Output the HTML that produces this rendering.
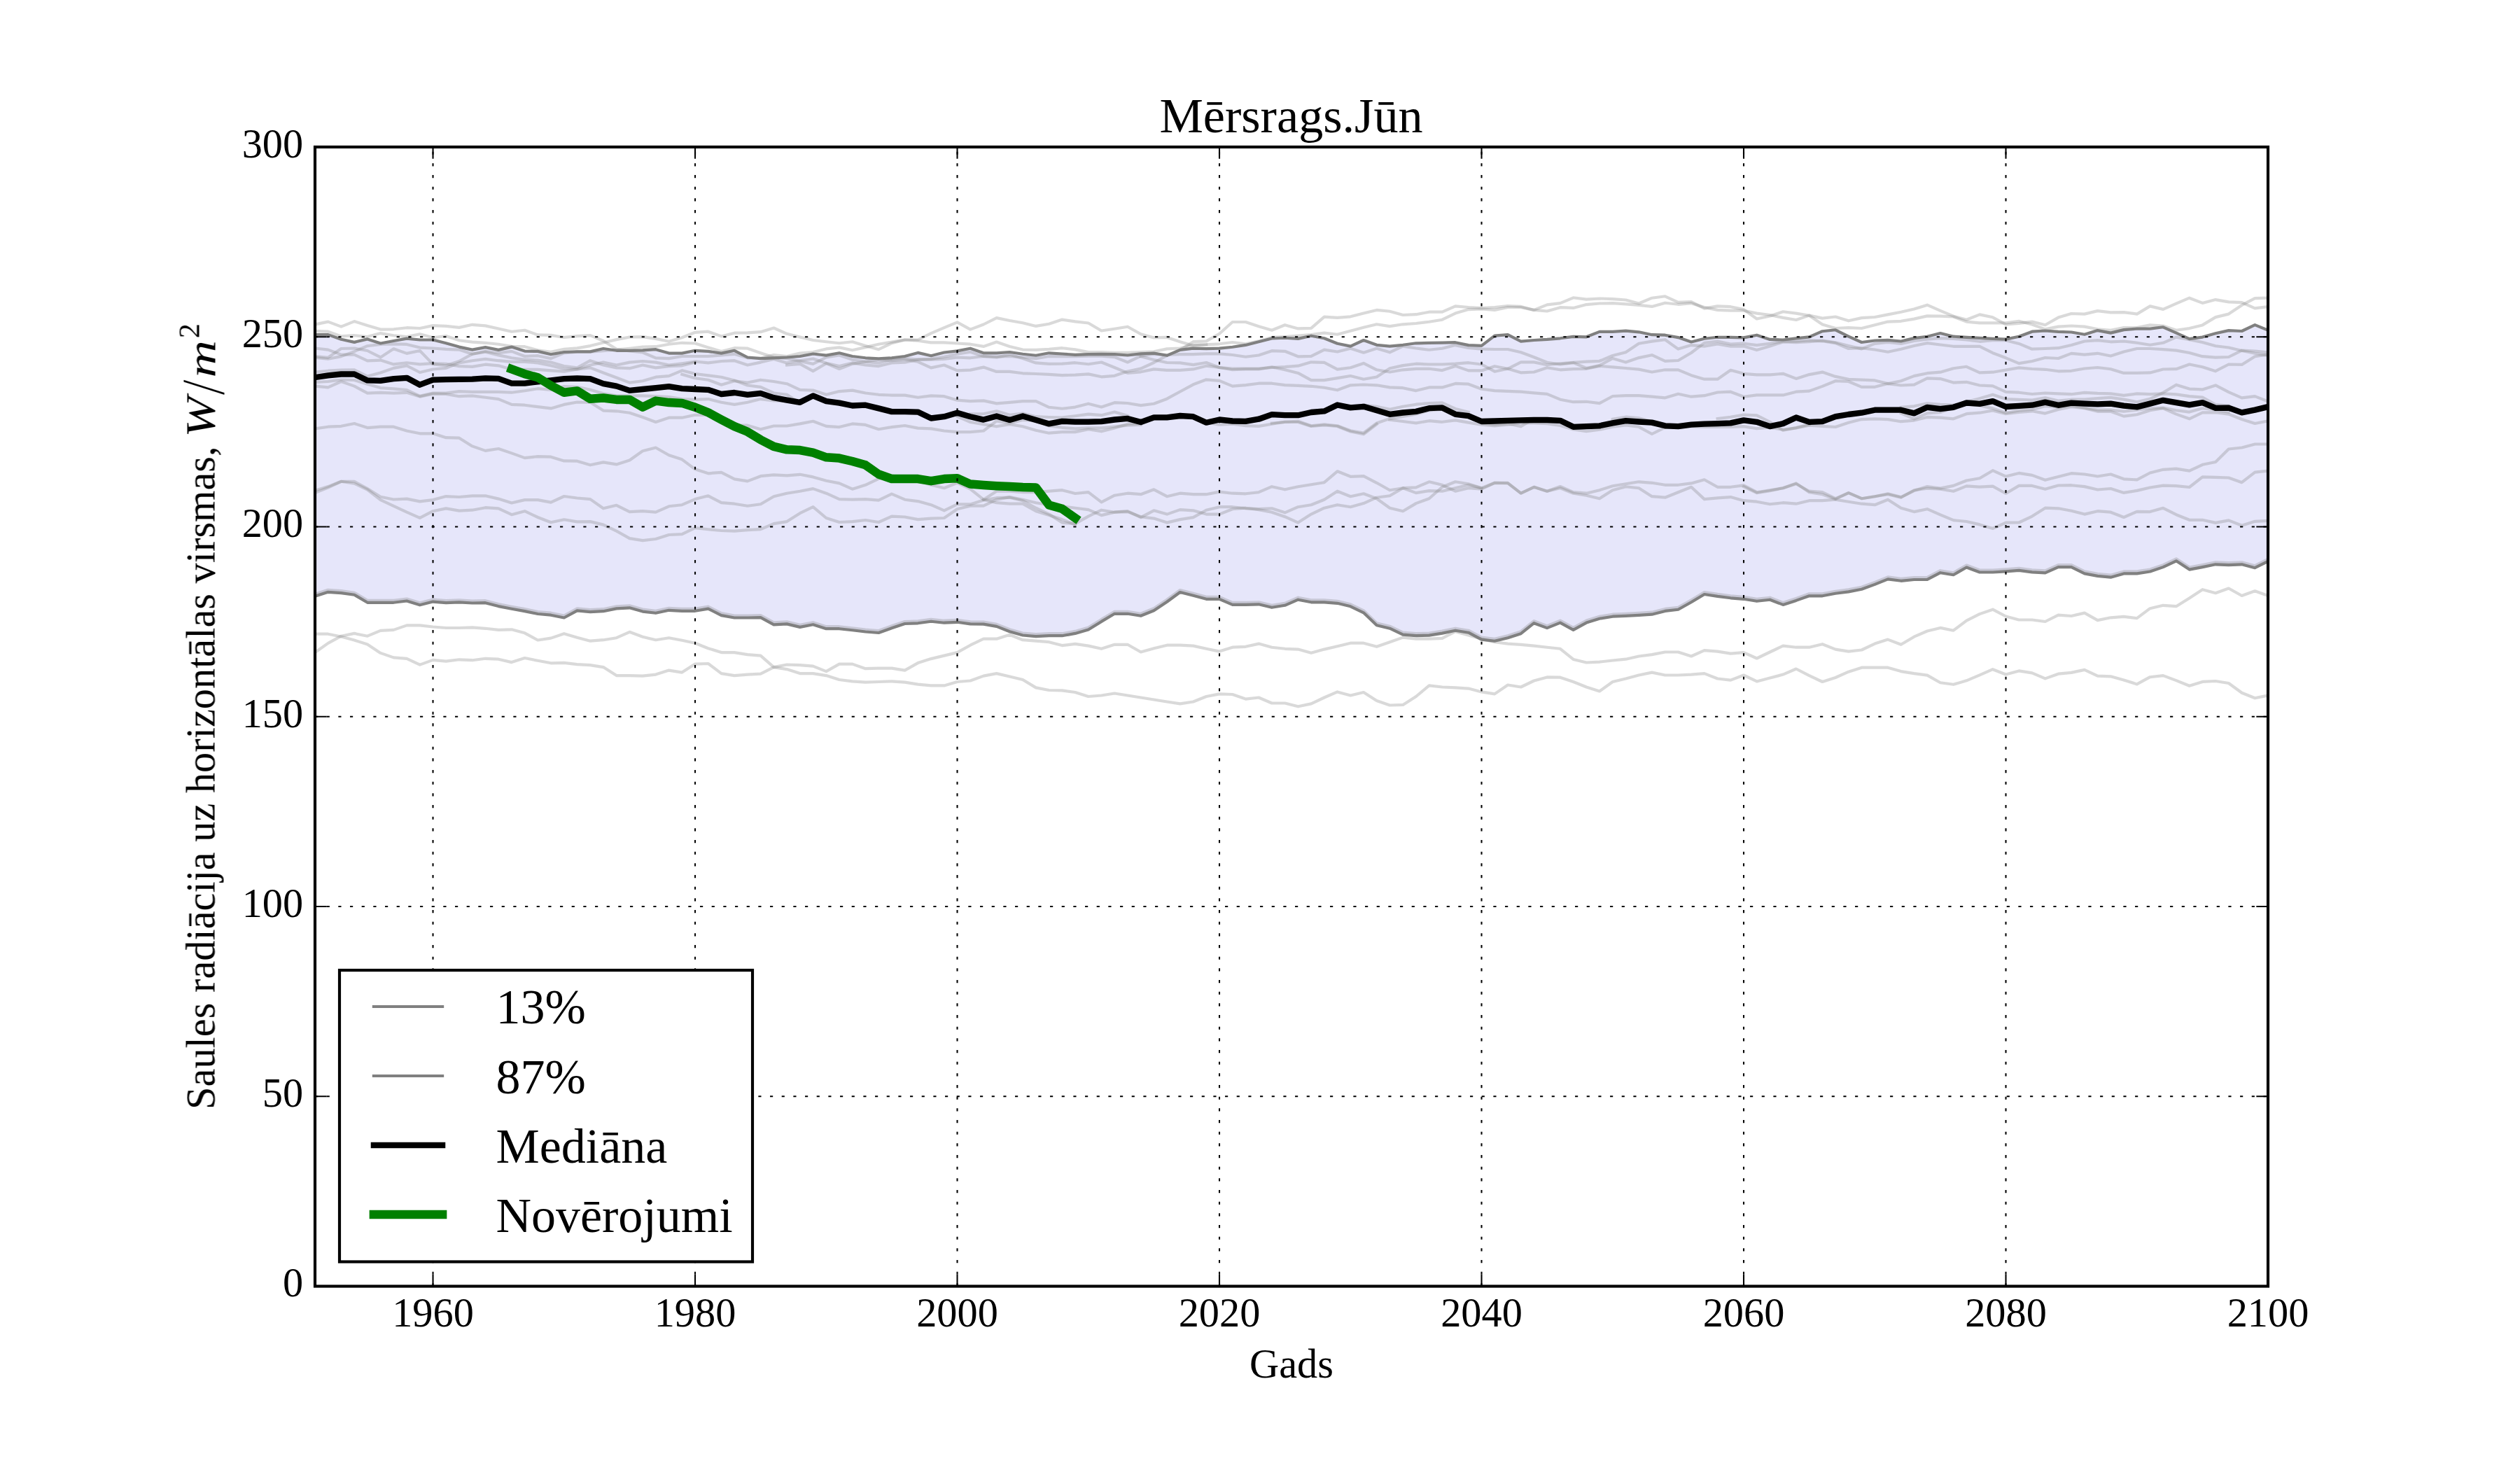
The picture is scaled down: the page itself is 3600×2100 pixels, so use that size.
<!DOCTYPE html>
<html><head><meta charset="utf-8"><title>Mērsrags.Jūn</title>
<style>
html,body{margin:0;padding:0;background:#fff;width:3600px;height:2100px;overflow:hidden}
svg{display:block}
.t{opacity:0.999;font-family:"Liberation Serif","DejaVu Serif",serif;fill:#000}
</style></head><body>
<svg width="3600" height="2100" viewBox="0 0 3600 2100">
<rect x="0" y="0" width="3600" height="2100" fill="#fff"/>
<defs><clipPath id="ax"><rect x="450.0" y="210.0" width="2790.0" height="1627.5"/></clipPath></defs>
<g clip-path="url(#ax)">
<polygon points="450.0,478.1 468.7,478.1 487.4,484.7 506.2,488.9 524.9,484.4 543.6,490.5 562.3,487.0 581.1,483.6 599.8,485.5 618.5,485.5 637.2,490.2 656.0,495.6 674.7,499.6 693.4,496.1 712.1,499.9 730.9,495.6 749.6,501.6 768.3,501.9 787.0,506.3 805.8,503.0 824.5,502.3 843.2,502.4 861.9,498.0 880.7,500.8 899.4,500.8 918.1,500.3 936.8,499.2 955.6,504.6 974.3,504.6 993.0,500.8 1011.7,501.9 1030.5,504.6 1049.2,500.8 1067.9,510.5 1086.6,512.1 1105.4,511.3 1124.1,510.5 1142.8,509.0 1161.5,505.5 1180.3,507.6 1199.0,504.3 1217.7,509.0 1236.4,511.3 1255.2,512.4 1273.9,511.3 1292.6,509.0 1311.3,503.9 1330.1,508.2 1348.8,503.5 1367.5,501.4 1386.2,497.7 1405.0,504.3 1423.7,504.3 1442.4,503.0 1461.1,505.8 1479.9,507.7 1498.6,504.3 1517.3,505.5 1536.0,506.8 1554.8,506.2 1573.5,505.9 1592.2,506.2 1610.9,507.5 1629.7,505.4 1648.4,504.6 1667.1,507.8 1685.8,499.9 1704.6,497.6 1723.3,498.1 1742.0,497.6 1760.7,495.7 1779.5,492.9 1798.2,488.2 1816.9,483.5 1835.6,482.7 1854.4,483.9 1873.1,479.7 1891.8,483.2 1910.5,490.7 1929.3,494.6 1948.0,486.0 1966.7,492.8 1985.4,494.6 2004.2,492.8 2022.9,490.3 2041.6,489.9 2060.3,489.6 2079.1,489.2 2097.8,493.1 2116.5,493.9 2135.2,479.7 2154.0,478.2 2172.7,487.6 2191.4,486.0 2210.1,484.9 2228.9,483.3 2247.6,480.9 2266.3,481.3 2285.0,473.9 2303.8,473.9 2322.5,472.7 2341.2,474.3 2359.9,478.2 2378.7,478.7 2397.4,482.1 2416.1,488.4 2434.8,483.7 2453.6,481.8 2472.3,481.8 2491.0,482.4 2509.7,478.7 2528.5,484.9 2547.2,485.5 2565.9,483.4 2584.6,481.4 2603.4,473.2 2622.1,471.3 2640.8,480.7 2659.5,489.0 2678.3,486.5 2697.0,485.9 2715.7,487.5 2734.4,483.1 2753.2,480.7 2771.9,476.0 2790.6,480.7 2809.3,481.8 2828.1,482.8 2846.8,483.9 2865.5,484.6 2884.2,480.7 2903.0,473.7 2921.7,472.5 2940.4,473.9 2959.1,474.5 2977.9,477.8 2996.6,472.1 3015.3,475.6 3034.0,471.1 3052.8,469.6 3071.5,469.6 3090.2,467.3 3108.9,475.6 3127.7,484.1 3146.4,481.6 3165.1,476.3 3183.8,472.1 3202.6,473.0 3221.3,464.1 3240.0,471.8 3240.0,801.9 3221.3,811.2 3202.6,806.3 3183.8,807.1 3165.1,806.3 3146.4,810.1 3127.7,813.6 3108.9,801.3 3090.2,810.1 3071.5,816.5 3052.8,819.4 3034.0,819.4 3015.3,824.7 2996.6,822.9 2977.9,819.4 2959.1,810.1 2940.4,810.1 2921.7,818.3 2903.0,817.4 2884.2,814.9 2865.5,816.4 2846.8,817.5 2828.1,817.5 2809.3,810.5 2790.6,821.2 2771.9,818.2 2753.2,827.8 2734.4,828.0 2715.7,829.8 2697.0,827.4 2678.3,834.9 2659.5,841.8 2640.8,845.4 2622.1,847.8 2603.4,851.3 2584.6,851.3 2565.9,857.9 2547.2,863.9 2528.5,856.7 2509.7,858.8 2491.0,855.8 2472.3,854.3 2453.6,851.9 2434.8,849.0 2416.1,860.3 2397.4,870.8 2378.7,872.9 2359.9,877.7 2341.2,878.9 2322.5,879.8 2303.8,880.7 2285.0,883.7 2266.3,889.6 2247.6,899.8 2228.9,889.6 2210.1,897.1 2191.4,890.2 2172.7,905.2 2154.0,911.2 2135.2,915.7 2116.5,913.6 2097.8,903.7 2079.1,900.7 2060.3,904.6 2041.6,907.6 2022.9,908.2 2004.2,906.7 1985.4,897.7 1966.7,893.2 1948.0,875.3 1929.3,866.3 1910.5,861.8 1891.8,860.3 1873.1,860.3 1854.4,856.7 1835.6,864.8 1816.9,867.8 1798.2,863.3 1779.5,863.9 1760.7,863.9 1742.0,855.8 1723.3,855.8 1704.6,850.7 1685.8,846.0 1667.1,859.7 1648.4,872.3 1629.7,879.8 1610.9,876.8 1592.2,876.8 1573.5,887.9 1554.8,899.6 1536.0,904.9 1517.3,908.2 1498.6,908.2 1479.9,909.1 1461.1,907.5 1442.4,902.3 1423.7,894.9 1405.0,891.6 1386.2,891.4 1367.5,888.8 1348.8,889.7 1330.1,887.7 1311.3,890.3 1292.6,891.0 1273.9,897.3 1255.2,904.0 1236.4,902.5 1217.7,900.3 1199.0,898.2 1180.3,898.2 1161.5,892.3 1142.8,895.9 1124.1,891.4 1105.4,892.3 1086.6,882.2 1067.9,882.5 1049.2,882.5 1030.5,879.1 1011.7,869.6 993.0,872.8 974.3,872.8 955.6,871.8 936.8,875.8 918.1,873.6 899.4,868.3 880.7,869.4 861.9,873.2 843.2,874.1 824.5,872.4 805.8,882.5 787.0,878.7 768.3,877.0 749.6,873.1 730.9,869.8 712.1,866.1 693.4,861.2 674.7,861.5 656.0,860.3 637.2,861.2 618.5,859.6 599.8,864.3 581.1,858.5 562.3,860.8 543.6,860.8 524.9,860.8 506.2,849.7 487.4,847.1 468.7,845.8 450.0,851.8" fill="#e6e6fa" stroke="none"/>
<polyline points="450.0,463.5 468.7,459.6 487.4,466.6 506.2,459.1 524.9,465.1 543.6,470.6 562.3,470.3 581.1,468.2 599.8,469.0 618.5,465.1 637.2,465.9 656.0,467.9 674.7,463.8 693.4,465.4 712.1,469.5 730.9,473.7 749.6,471.8 768.3,478.4 787.0,478.9 805.8,482.0 824.5,480.2 843.2,479.2 861.9,487.0 880.7,498.8 899.4,501.4 918.1,503.5 936.8,511.3 955.6,512.1 974.3,509.0 993.0,509.0 1011.7,509.0 1030.5,507.4 1049.2,505.8 1067.9,511.3 1086.6,511.7 1105.4,507.1 1124.1,509.0 1142.8,504.6 1161.5,503.1 1180.3,498.4 1199.0,496.4 1217.7,500.3 1236.4,496.1 1255.2,491.7 1273.9,488.6 1292.6,485.5 1311.3,486.7 1330.1,489.4 1348.8,489.4 1367.5,490.5 1386.2,491.7 1405.0,494.9 1423.7,488.6 1442.4,494.9 1461.1,499.6 1479.9,499.9 1498.6,498.8 1517.3,497.2 1536.0,499.4 1554.8,503.1 1573.5,503.1 1592.2,503.9 1610.9,503.9 1629.7,503.1 1648.4,502.3 1667.1,498.4 1685.8,497.6 1704.6,492.9 1723.3,492.4 1742.0,491.3 1760.7,489.0 1779.5,491.3 1798.2,487.4 1816.9,481.9 1835.6,481.1 1854.4,479.6 1873.1,478.1 1891.8,475.6 1910.5,477.7 1929.3,472.7 1948.0,467.7 1966.7,463.3 1985.4,466.1 2004.2,463.3 2022.9,462.0 2041.6,459.8 2060.3,456.7 2079.1,447.6 2097.8,442.1 2116.5,441.3 2135.2,442.9 2154.0,439.0 2172.7,439.0 2191.4,442.9 2210.1,444.5 2228.9,439.2 2247.6,439.9 2266.3,435.1 2285.0,433.5 2303.8,433.2 2322.5,434.3 2341.2,435.9 2359.9,437.9 2378.7,432.7 2397.4,434.8 2416.1,433.2 2434.8,439.0 2453.6,442.9 2472.3,443.7 2491.0,443.7 2509.7,447.6 2528.5,450.0 2547.2,453.9 2565.9,457.0 2584.6,450.6 2603.4,454.6 2622.1,452.5 2640.8,458.3 2659.5,454.1 2678.3,453.0 2697.0,449.4 2715.7,445.8 2734.4,441.5 2753.2,435.7 2771.9,443.9 2790.6,451.7 2809.3,456.7 2828.1,449.4 2846.8,453.3 2865.5,463.5 2884.2,461.9 2903.0,459.6 2921.7,464.2 2940.4,453.6 2959.1,448.0 2977.9,448.6 2996.6,444.1 3015.3,446.4 3034.0,446.1 3052.8,448.6 3071.5,437.4 3090.2,441.9 3108.9,433.7 3127.7,425.7 3146.4,432.9 3165.1,428.1 3183.8,431.4 3202.6,432.2 3221.3,440.4 3240.0,438.2" fill="none" stroke="#808080" stroke-opacity="0.3" stroke-width="4.17" stroke-linejoin="round" stroke-linecap="square"/>
<polyline points="450.0,472.9 468.7,473.7 487.4,480.4 506.2,479.2 524.9,481.1 543.6,476.1 562.3,479.2 581.1,481.1 599.8,477.3 618.5,482.3 637.2,480.0 656.0,486.2 674.7,488.6 693.4,489.8 712.1,491.7 730.9,494.9 749.6,495.2 768.3,500.3 787.0,502.7 805.8,498.8 824.5,497.4 843.2,494.1 861.9,489.4 880.7,485.1 899.4,481.5 918.1,481.1 936.8,483.9 955.6,487.8 974.3,482.3 993.0,474.8 1011.7,473.7 1030.5,480.4 1049.2,475.7 1067.9,475.3 1086.6,474.2 1105.4,468.5 1124.1,476.8 1142.8,481.5 1161.5,486.0 1180.3,488.2 1199.0,490.2 1217.7,488.3 1236.4,494.1 1255.2,499.2 1273.9,490.2 1292.6,485.5 1311.3,485.5 1330.1,476.1 1348.8,468.2 1367.5,460.4 1386.2,470.6 1405.0,463.5 1423.7,454.1 1442.4,458.0 1461.1,461.2 1479.9,465.9 1498.6,462.7 1517.3,456.6 1536.0,459.4 1554.8,461.5 1573.5,472.5 1592.2,469.8 1610.9,466.7 1629.7,477.2 1648.4,482.4 1667.1,481.9 1685.8,488.2 1704.6,493.7 1723.3,492.4" fill="none" stroke="#808080" stroke-opacity="0.3" stroke-width="4.17" stroke-linejoin="round" stroke-linecap="square"/>
<polyline points="450.0,497.5 468.7,499.6 487.4,506.6 506.2,506.6 524.9,515.4 543.6,514.6 562.3,520.4 581.1,518.2 599.8,520.4 618.5,519.2 637.2,519.9 656.0,523.1 674.7,523.9 693.4,520.7 712.1,522.3 730.9,527.8 749.6,527.8 768.3,527.8 787.0,529.3 805.8,530.6 824.5,527.4 843.2,525.4 861.9,532.5 880.7,539.5 899.4,546.6 918.1,544.2 936.8,538.7 955.6,537.2 974.3,529.3 993.0,534.0 1011.7,536.4 1030.5,538.7 1049.2,543.4 1067.9,550.5 1086.6,552.9 1105.4,561.5 1124.1,563.8 1142.8,575.6" fill="none" stroke="#808080" stroke-opacity="0.3" stroke-width="4.17" stroke-linejoin="round" stroke-linecap="square"/>
<polyline points="450.0,509.1 468.7,510.8 487.4,498.0 506.2,497.5 524.9,501.0 543.6,510.4 562.3,498.3 581.1,504.9 599.8,501.0 618.5,520.4 637.2,522.3 656.0,516.0 674.7,505.8 693.4,501.9 712.1,504.3 730.9,501.9 749.6,509.0 768.3,508.2 787.0,512.1 805.8,504.3 824.5,502.7 843.2,502.7 861.9,501.1 880.7,499.6 899.4,497.7 918.1,495.6 936.8,495.2 955.6,491.7 974.3,489.8 993.0,490.5 1011.7,496.4 1030.5,501.9 1049.2,497.2 1067.9,497.7 1086.6,504.3 1105.4,510.5 1124.1,512.1 1142.8,516.0 1161.5,519.9 1180.3,510.5 1199.0,507.4 1217.7,513.7 1236.4,516.8 1255.2,518.4 1273.9,513.7 1292.6,512.1 1311.3,513.7 1330.1,513.7 1348.8,512.9 1367.5,510.5 1386.2,511.3 1405.0,509.0 1423.7,509.7 1442.4,509.0 1461.1,510.5 1479.9,512.1 1498.6,509.0 1517.3,509.2 1536.0,509.2 1554.8,508.6 1573.5,508.6 1592.2,510.1 1610.9,517.5 1629.7,508.6 1648.4,505.9 1667.1,507.0 1685.8,506.2 1704.6,506.2 1723.3,505.4 1742.0,505.4 1760.7,507.0 1779.5,509.7 1798.2,507.5 1816.9,501.2 1835.6,501.8 1854.4,509.3 1873.1,508.9 1891.8,499.6 1910.5,502.5 1929.3,497.8 1948.0,503.7 1966.7,497.8 1985.4,503.3 2004.2,494.6 2022.9,497.5 2041.6,499.7 2060.3,497.8 2079.1,493.1 2097.8,497.0 2116.5,498.6 2135.2,499.0 2154.0,499.0 2172.7,503.3 2191.4,510.3 2210.1,517.8 2228.9,520.5 2247.6,518.2 2266.3,526.0 2285.0,522.1 2303.8,511.9 2322.5,517.4 2341.2,511.1 2359.9,507.2 2378.7,515.8 2397.4,515.0 2416.1,504.0 2434.8,489.9 2453.6,487.6 2472.3,491.5 2491.0,490.7 2509.7,493.1 2528.5,490.7 2547.2,487.6 2565.9,487.6 2584.6,486.1 2603.4,487.3 2622.1,490.1 2640.8,498.0 2659.5,497.2 2678.3,499.5 2697.0,502.7 2715.7,498.7 2734.4,494.0 2753.2,490.1 2771.9,492.5 2790.6,494.8 2809.3,494.8 2828.1,494.8 2846.8,504.2 2865.5,511.3 2884.2,519.1 2903.0,516.0 2921.7,511.0 2940.4,512.0 2959.1,504.9 2977.9,506.6 2996.6,504.8 3015.3,508.5 3034.0,502.5 3052.8,498.0 3071.5,498.0 3090.2,499.1 3108.9,500.6 3127.7,504.0 3146.4,509.2 3165.1,510.7 3183.8,510.0 3202.6,500.6 3221.3,501.5 3240.0,503.3" fill="none" stroke="#808080" stroke-opacity="0.3" stroke-width="4.17" stroke-linejoin="round" stroke-linecap="square"/>
<polyline points="450.0,510.8 468.7,512.7 487.4,509.1 506.2,502.1 524.9,494.2 543.6,491.9 562.3,491.3 581.1,491.9 599.8,496.6 618.5,497.5 637.2,498.8 656.0,499.6 674.7,505.8 693.4,502.7 712.1,507.4 730.9,511.3 749.6,513.7 768.3,514.5 787.0,517.6 805.8,523.1 824.5,525.4 843.2,515.2 861.9,521.5 880.7,525.4 899.4,526.2 918.1,521.5 936.8,525.4 955.6,523.1 974.3,522.3 993.0,517.6" fill="none" stroke="#808080" stroke-opacity="0.3" stroke-width="4.17" stroke-linejoin="round" stroke-linecap="square"/>
<polyline points="450.0,531.7 468.7,529.7 487.4,528.7 506.2,528.4 524.9,537.5 543.6,532.5 562.3,525.9 581.1,522.4 599.8,532.0 618.5,527.5 637.2,525.9 656.0,518.4 674.7,515.2 693.4,512.9 712.1,515.2 730.9,516.8 749.6,516.8 768.3,518.4 787.0,522.3 805.8,527.0 824.5,527.4 843.2,521.5 861.9,517.6 880.7,521.5 899.4,517.6 918.1,516.0 936.8,517.6 955.6,521.5 974.3,519.2 993.0,516.5 1011.7,518.4 1030.5,516.0 1049.2,515.2 1067.9,521.5 1086.6,517.6 1105.4,512.9 1124.1,518.4 1142.8,515.2 1161.5,512.5 1180.3,518.8 1199.0,523.1 1217.7,518.4 1236.4,521.5 1255.2,523.1 1273.9,518.4 1292.6,517.6 1311.3,513.7 1330.1,512.9 1348.8,509.7 1367.5,505.8 1386.2,502.7 1405.0,509.0 1423.7,510.5 1442.4,506.6 1461.1,512.1 1479.9,518.4 1498.6,519.9 1517.3,519.7 1536.0,518.2 1554.8,520.3 1573.5,517.5 1592.2,525.0 1610.9,532.9 1629.7,531.3 1648.4,527.4 1667.1,528.9 1685.8,528.9 1704.6,527.4 1723.3,522.7 1742.0,525.0 1760.7,526.6 1779.5,526.6 1798.2,526.6 1816.9,525.0 1835.6,524.2 1854.4,522.7 1873.1,517.3 1891.8,517.9 1910.5,527.6 1929.3,525.2 1948.0,518.9 1966.7,528.3 1985.4,531.5 2004.2,528.3 2022.9,526.8 2041.6,526.8 2060.3,529.1 2079.1,522.9 2097.8,529.4 2116.5,529.4 2135.2,523.2 2154.0,526.8 2172.7,532.3 2191.4,531.5 2210.1,525.2 2228.9,528.3 2247.6,527.2 2266.3,526.8 2285.0,522.9 2303.8,524.4 2322.5,526.0 2341.2,527.6 2359.9,531.5 2378.7,528.3 2397.4,528.3 2416.1,536.2 2434.8,541.7 2453.6,541.7 2472.3,528.8 2491.0,533.8 2509.7,535.4 2528.5,535.4 2547.2,533.8 2565.9,540.9 2584.6,535.1 2603.4,531.6 2622.1,537.9 2640.8,541.8 2659.5,542.6 2678.3,543.4 2697.0,548.1 2715.7,550.5 2734.4,549.7 2753.2,540.3 2771.9,541.1 2790.6,546.6 2809.3,545.8 2828.1,550.5 2846.8,551.3 2865.5,559.9 2884.2,560.7 2903.0,563.0 2921.7,561.5 2940.4,562.3 2959.1,563.2 2977.9,560.9 2996.6,561.9 3015.3,562.4 3034.0,564.9 3052.8,562.4 3071.5,563.1 3090.2,562.4 3108.9,563.4 3127.7,566.1 3146.4,567.6 3165.1,578.1 3183.8,579.6" fill="none" stroke="#808080" stroke-opacity="0.3" stroke-width="4.17" stroke-linejoin="round" stroke-linecap="square"/>
<polyline points="450.0,545.8 468.7,545.0 487.4,542.5 506.2,543.0 524.9,548.8 543.6,554.1 562.3,555.4 581.1,557.1 599.8,565.9 618.5,561.6 637.2,561.6 656.0,559.1 674.7,559.9 693.4,559.9 712.1,559.9 730.9,560.7 749.6,558.3 768.3,555.2 787.0,556.8 805.8,552.1 824.5,552.9 843.2,556.8 861.9,562.3 880.7,565.4 899.4,565.4 918.1,565.4 936.8,566.2 955.6,567.0 974.3,570.1 993.0,570.9 1011.7,570.1 1030.5,574.8 1049.2,577.9 1067.9,574.8 1086.6,570.1 1105.4,572.4 1124.1,573.2 1142.8,576.4" fill="none" stroke="#808080" stroke-opacity="0.3" stroke-width="4.17" stroke-linejoin="round" stroke-linecap="square"/>
<polyline points="450.0,551.6 468.7,553.3 487.4,545.0 506.2,551.6 524.9,561.6 543.6,560.8 562.3,561.6 581.1,560.8 599.8,566.6 618.5,562.6 637.2,563.0 656.0,566.2 674.7,565.4 693.4,567.7 712.1,570.1 730.9,577.9 749.6,578.7 768.3,581.1 787.0,583.4 805.8,577.9 824.5,574.5 843.2,574.8 861.9,586.6 880.7,587.3 899.4,589.7 918.1,596.0 936.8,603.0 955.6,596.7 974.3,596.7 993.0,592.8 1011.7,592.8" fill="none" stroke="#808080" stroke-opacity="0.3" stroke-width="4.17" stroke-linejoin="round" stroke-linecap="square"/>
<polyline points="974.3,534.8 993.0,540.3 1011.7,542.7 1030.5,549.7 1049.2,544.2 1067.9,546.6 1086.6,542.7 1105.4,545.0 1124.1,548.2 1142.8,556.8 1161.5,557.6 1180.3,563.8 1199.0,559.1 1217.7,557.6 1236.4,561.5 1255.2,563.8 1273.9,564.6 1292.6,564.6 1311.3,567.7 1330.1,565.4 1348.8,566.2 1367.5,571.7 1386.2,573.2 1405.0,572.4 1423.7,576.4 1442.4,574.8 1461.1,573.2 1479.9,573.2 1498.6,581.8 1517.3,583.8 1536.0,581.6 1554.8,576.7 1573.5,581.4 1592.2,575.2 1610.9,576.0 1629.7,579.1 1648.4,576.7 1667.1,569.7 1685.8,559.5 1704.6,549.3 1723.3,542.3 1742.0,543.8 1760.7,551.7 1779.5,550.1 1798.2,547.7 1816.9,547.7 1835.6,550.1 1854.4,550.9 1873.1,551.8 1891.8,553.7 1910.5,557.3 1929.3,550.3 1948.0,549.5 1966.7,550.3 1985.4,553.4 2004.2,554.2 2022.9,558.1 2041.6,553.4 2060.3,553.4 2079.1,547.9 2097.8,548.7 2116.5,555.8 2135.2,558.1 2154.0,558.9 2172.7,559.7 2191.4,561.3 2210.1,562.8 2228.9,570.7 2247.6,574.2 2266.3,573.8 2285.0,576.1 2303.8,566.0 2322.5,565.2 2341.2,565.2 2359.9,566.7 2378.7,568.3 2397.4,562.8 2416.1,566.7 2434.8,565.2 2453.6,560.5 2472.3,559.7 2491.0,566.7 2509.7,564.4 2528.5,564.4 2547.2,564.4 2565.9,559.7 2584.6,558.6 2603.4,551.9 2622.1,544.2 2640.8,545.0 2659.5,552.8 2678.3,552.8 2697.0,548.1 2715.7,544.2 2734.4,537.1 2753.2,533.2 2771.9,531.7 2790.6,526.2 2809.3,523.8 2828.1,532.4 2846.8,531.7 2865.5,528.5 2884.2,525.4 2903.0,527.0 2921.7,527.8 2940.4,530.3 2959.1,529.8 2977.9,526.5 2996.6,525.0 3015.3,527.2 3034.0,532.9 3052.8,532.9 3071.5,532.4 3090.2,527.5 3108.9,527.2 3127.7,520.5 3146.4,524.2 3165.1,530.2 3183.8,520.5 3202.6,520.9 3221.3,509.2 3240.0,506.3" fill="none" stroke="#808080" stroke-opacity="0.3" stroke-width="4.17" stroke-linejoin="round" stroke-linecap="square"/>
<polyline points="1124.1,521.5 1142.8,519.9 1161.5,530.1 1180.3,519.2 1199.0,527.0 1217.7,519.9 1236.4,516.8 1255.2,513.7 1273.9,515.2 1292.6,513.7 1311.3,516.8 1330.1,525.4 1348.8,521.5 1367.5,529.3 1386.2,528.6 1405.0,524.6 1423.7,530.9 1442.4,530.9 1461.1,533.3 1479.9,534.0 1498.6,534.8 1517.3,536.2 1536.0,535.6 1554.8,534.4 1573.5,538.3 1592.2,536.8 1610.9,530.5 1629.7,526.6 1648.4,518.0 1667.1,507.8 1685.8,499.9 1704.6,488.2 1723.3,487.4 1742.0,476.7 1760.7,460.0 1779.5,460.0 1798.2,466.2 1816.9,471.7 1835.6,464.2 1854.4,469.4 1873.1,468.8 1891.8,452.6 1910.5,453.9 1929.3,452.3 1948.0,447.6 1966.7,442.9 1985.4,444.8 2004.2,450.0 2022.9,449.2 2041.6,445.7 2060.3,445.7 2079.1,437.4 2097.8,439.0 2116.5,440.1 2135.2,439.0 2154.0,437.0 2172.7,437.9 2191.4,442.9 2210.1,435.4 2228.9,433.1 2247.6,425.3 2266.3,427.6 2285.0,426.5 2303.8,427.2 2322.5,428.5 2341.2,433.5 2359.9,425.7 2378.7,423.3 2397.4,431.9 2416.1,431.2 2434.8,440.6 2453.6,437.4 2472.3,438.2 2491.0,442.1 2509.7,455.5 2528.5,451.5 2547.2,445.3 2565.9,447.6 2584.6,450.8 2603.4,463.4 2622.1,469.0 2640.8,468.2 2659.5,469.0 2678.3,464.3 2697.0,459.6 2715.7,458.8 2734.4,455.6 2753.2,451.4 2771.9,451.7 2790.6,452.5 2809.3,459.6 2828.1,461.4 2846.8,461.4 2865.5,461.4 2884.2,458.8 2903.0,463.5 2921.7,470.4 2940.4,466.6 2959.1,465.5 2977.9,466.6 2996.6,470.3 3015.3,471.8 3034.0,468.1 3052.8,468.1 3071.5,464.4 3090.2,465.5 3108.9,471.8 3127.7,469.1 3146.4,464.4 3165.1,453.1 3183.8,448.6 3202.6,435.9 3221.3,426.2 3240.0,425.7" fill="none" stroke="#808080" stroke-opacity="0.3" stroke-width="4.17" stroke-linejoin="round" stroke-linecap="square"/>
<polyline points="1049.2,607.7 1067.9,607.7 1086.6,613.2 1105.4,608.5 1124.1,608.5 1142.8,605.4 1161.5,601.8 1180.3,608.9 1199.0,610.1 1217.7,605.4 1236.4,606.9 1255.2,613.2 1273.9,610.1 1292.6,608.0 1311.3,611.6 1330.1,612.4 1348.8,615.5 1367.5,617.1 1386.2,617.1 1405.0,615.5 1423.7,601.4 1442.4,604.6 1461.1,599.9 1479.9,601.4 1498.6,608.5 1517.3,610.8 1536.0,612.4 1554.8,611.4 1573.5,611.4 1592.2,609.5 1610.9,607.6 1629.7,606.7" fill="none" stroke="#808080" stroke-opacity="0.3" stroke-width="4.17" stroke-linejoin="round" stroke-linecap="square"/>
<polyline points="450.0,612.3 468.7,609.7 487.4,608.8 506.2,605.0 524.9,611.1 543.6,609.7 562.3,609.7 581.1,615.5 599.8,619.3 618.5,619.3 637.2,625.2 656.0,625.7 674.7,637.4 693.4,643.9 712.1,641.0 730.9,647.4 749.6,654.1 768.3,652.1 787.0,652.7 805.8,658.4 824.5,658.7 843.2,664.3 861.9,660.4 880.7,663.4 899.4,657.5 918.1,644.3 936.8,639.5 955.6,650.3 974.3,656.3 993.0,670.3 1011.7,676.3 1030.5,674.8 1049.2,684.4 1067.9,687.4 1086.6,680.2 1105.4,678.4 1124.1,679.3 1142.8,677.8 1161.5,681.4 1180.3,686.8 1199.0,690.4 1217.7,698.7 1236.4,692.8 1255.2,683.8 1273.9,679.3 1292.6,683.8 1311.3,686.8 1330.1,692.8 1348.8,697.2 1367.5,689.8 1386.2,698.7 1405.0,713.7 1423.7,701.7 1442.4,701.7 1461.1,703.2 1479.9,703.2 1498.6,701.7 1517.3,700.2 1536.0,705.0 1554.8,703.2 1573.5,717.3 1592.2,707.7 1610.9,704.7 1629.7,706.2 1648.4,699.3 1667.1,709.2 1685.8,704.7 1704.6,706.2 1723.3,706.2 1742.0,702.6 1760.7,704.7 1779.5,705.3 1798.2,703.2 1816.9,695.2 1835.6,699.3 1854.4,695.2 1873.1,692.2 1891.8,689.2 1910.5,673.3 1929.3,680.8 1948.0,680.2 1966.7,689.8 1985.4,700.2 2004.2,697.2 2022.9,696.3 2041.6,688.3 2060.3,692.8 2079.1,701.7 2097.8,697.2 2116.5,698.7 2135.2,689.8 2154.0,689.8 2172.7,704.7 2191.4,695.8 2210.1,701.7 2228.9,695.0 2247.6,703.2 2266.3,704.7 2285.0,700.2 2303.8,694.3 2322.5,691.3 2341.2,688.3 2359.9,689.8 2378.7,692.8 2397.4,692.8 2416.1,690.4 2434.8,685.3 2453.6,695.8 2472.3,695.8 2491.0,693.4 2509.7,703.2 2528.5,700.2 2547.2,697.2 2565.9,691.3 2584.6,701.7 2603.4,703.2 2622.1,712.2 2640.8,704.1 2659.5,712.2 2678.3,709.2 2697.0,705.3 2715.7,710.1 2734.4,701.1 2753.2,695.1 2771.9,697.6 2790.6,693.9 2809.3,686.5 2828.1,683.3 2846.8,672.2 2865.5,680.6 2884.2,675.9 2903.0,678.9 2921.7,685.8 2940.4,681.1 2959.1,676.2 2977.9,677.5 2996.6,680.5 3015.3,677.5 3034.0,684.3 3052.8,685.4 3071.5,675.5 3090.2,670.8 3108.9,669.6 3127.7,672.6 3146.4,663.8 3165.1,660.0 3183.8,641.5 3202.6,639.5 3221.3,634.5 3240.0,634.5" fill="none" stroke="#808080" stroke-opacity="0.3" stroke-width="4.17" stroke-linejoin="round" stroke-linecap="square"/>
<polyline points="450.0,703.9 468.7,696.5 487.4,687.8 506.2,687.8 524.9,698.0 543.6,709.7 562.3,713.5 581.1,712.6 599.8,716.4 618.5,714.1 637.2,709.1 656.0,710.0 674.7,708.3 693.4,708.3 712.1,712.6 730.9,718.5 749.6,714.1 768.3,714.1 787.0,717.6 805.8,709.0 824.5,711.5 843.2,713.1 861.9,726.3 880.7,721.8 899.4,731.1 918.1,730.2 936.8,731.7 955.6,723.3 974.3,721.2 993.0,713.1 1011.7,708.3 1030.5,718.2 1049.2,719.7 1067.9,722.7 1086.6,720.3 1105.4,709.2 1124.1,704.7 1142.8,701.7 1161.5,698.1 1180.3,704.7 1199.0,713.1 1217.7,713.7 1236.4,713.1 1255.2,714.6 1273.9,705.6 1292.6,713.7 1311.3,716.1 1330.1,721.2 1348.8,729.3 1367.5,720.4 1386.2,720.4 1405.0,714.5 1423.7,711.2 1442.4,710.7 1461.1,715.2 1479.9,725.7 1498.6,734.6 1517.3,746.6 1536.0,748.1 1554.8,737.6 1573.5,728.7 1592.2,731.7 1610.9,730.2 1629.7,739.1 1648.4,729.3 1667.1,734.6 1685.8,728.1 1704.6,729.3 1723.3,734.6 1742.0,734.6 1760.7,727.2 1779.5,725.7 1798.2,728.1 1816.9,731.7 1835.6,738.2 1854.4,746.6 1873.1,734.6 1891.8,725.7 1910.5,721.2 1929.3,724.2 1948.0,719.1 1966.7,710.7 1985.4,708.3 2004.2,697.2 2022.9,704.1 2041.6,701.1 2060.3,701.7 2079.1,697.2 2097.8,692.8 2116.5,697.2" fill="none" stroke="#808080" stroke-opacity="0.3" stroke-width="4.17" stroke-linejoin="round" stroke-linecap="square"/>
<polyline points="450.0,700.9 468.7,695.1 487.4,687.8 506.2,690.7 524.9,699.5 543.6,714.1 562.3,722.9 581.1,731.7 599.8,739.8 618.5,730.2 637.2,726.4 656.0,729.6 674.7,728.7 693.4,725.2 712.1,726.4 730.9,735.2 749.6,730.2 768.3,739.0 787.0,746.3 805.8,742.3 824.5,745.4 843.2,745.1 861.9,749.6 880.7,758.6 899.4,769.1 918.1,772.1 936.8,770.0 955.6,764.0 974.3,763.1 993.0,754.1 1011.7,756.2 1030.5,758.0 1049.2,758.6 1067.9,757.1 1086.6,756.2 1105.4,748.1 1124.1,745.1 1142.8,733.2 1161.5,724.2 1180.3,740.0 1199.0,746.0 1217.7,745.1 1236.4,743.0 1255.2,746.0 1273.9,737.6 1292.6,738.5 1311.3,742.1 1330.1,740.6 1348.8,740.0 1367.5,727.2 1386.2,722.7 1405.0,722.7 1423.7,713.7 1442.4,710.1 1461.1,713.7 1479.9,718.2 1498.6,721.2 1517.3,723.3 1536.0,725.7 1554.8,728.1 1573.5,736.1 1592.2,731.7 1610.9,731.1 1629.7,738.2 1648.4,740.6 1667.1,746.6 1685.8,742.1 1704.6,739.1 1723.3,728.7 1742.0,724.2 1760.7,724.2 1779.5,726.3 1798.2,727.2 1816.9,726.3 1835.6,732.3 1854.4,724.2 1873.1,721.2 1891.8,713.7 1910.5,701.7 1929.3,709.2 1948.0,705.3 1966.7,712.2 1985.4,725.7 2004.2,730.2 2022.9,719.1 2041.6,712.2 2060.3,695.8 2079.1,688.3 2097.8,691.3 2116.5,697.2 2135.2,689.8 2154.0,690.4 2172.7,704.7 2191.4,695.8 2210.1,701.7 2228.9,697.2 2247.6,704.7 2266.3,707.7 2285.0,712.2 2303.8,700.2 2322.5,695.2 2341.2,697.2 2359.9,709.2 2378.7,710.7 2397.4,703.2 2416.1,695.8 2434.8,713.1 2453.6,711.3 2472.3,710.1 2491.0,715.2 2509.7,716.7 2528.5,720.3 2547.2,718.2 2565.9,719.7 2584.6,715.2 2603.4,715.2 2622.1,713.7 2640.8,716.7 2659.5,719.7 2678.3,721.2 2697.0,713.7 2715.7,725.7 2734.4,731.1 2753.2,727.2 2771.9,735.4 2790.6,743.2 2809.3,745.0 2828.1,749.4 2846.8,755.0 2865.5,746.7 2884.2,746.5 2903.0,737.6 2921.7,725.7 2940.4,726.3 2959.1,729.7 2977.9,734.6 2996.6,730.2 3015.3,731.7 3034.0,739.0 3052.8,730.8 3071.5,731.1 3090.2,725.8 3108.9,735.2 3127.7,742.8 3146.4,742.8 3165.1,746.9 3183.8,743.4 3202.6,750.7 3221.3,744.8 3240.0,743.9" fill="none" stroke="#808080" stroke-opacity="0.3" stroke-width="4.17" stroke-linejoin="round" stroke-linecap="square"/>
<polyline points="450.0,932.1 468.7,918.9 487.4,908.7 506.2,904.9 524.9,908.7 543.6,900.8 562.3,899.9 581.1,893.4 599.8,893.4 618.5,895.5 637.2,897.0 656.0,897.0 674.7,896.4 693.4,897.8 712.1,899.9 730.9,899.3 749.6,904.3 768.3,914.5 787.0,911.6 805.8,905.2 824.5,910.7 843.2,915.7 861.9,914.2 880.7,911.2 899.4,902.8 918.1,909.7 936.8,914.2 955.6,911.2 974.3,914.8 993.0,918.7 1011.7,926.2 1030.5,932.1 1049.2,932.1 1067.9,935.1 1086.6,936.6 1105.4,953.1 1124.1,956.1 1142.8,962.1 1161.5,962.1 1180.3,965.1 1199.0,971.0 1217.7,973.4 1236.4,974.6 1255.2,974.0 1273.9,973.4 1292.6,974.6 1311.3,977.6 1330.1,979.4 1348.8,979.4 1367.5,974.0 1386.2,972.5 1405.0,965.6 1423.7,962.1 1442.4,966.5 1461.1,971.0 1479.9,982.4 1498.6,986.0 1517.3,986.4 1536.0,989.0 1554.8,995.0 1573.5,993.5 1592.2,990.5 1610.9,993.5 1629.7,996.5 1648.4,999.5 1667.1,1002.5 1685.8,1005.4 1704.6,1002.5 1723.3,995.0 1742.0,991.4 1760.7,992.0 1779.5,998.6 1798.2,996.5 1816.9,1004.5 1835.6,1004.5 1854.4,1009.3 1873.1,1005.4 1891.8,996.5 1910.5,988.4 1929.3,993.5 1948.0,989.0 1966.7,1001.0 1985.4,1007.5 2004.2,1006.9 2022.9,995.0 2041.6,979.4 2060.3,981.5 2079.1,982.4 2097.8,983.6 2116.5,988.4 2135.2,991.4 2154.0,978.5 2172.7,981.5 2191.4,972.5 2210.1,967.4 2228.9,967.7 2247.6,974.0 2266.3,981.5 2285.0,987.5 2303.8,974.0 2322.5,969.5 2341.2,964.5 2359.9,960.6 2378.7,964.5 2397.4,964.5 2416.1,963.6 2434.8,962.1 2453.6,969.5 2472.3,971.6 2491.0,964.5 2509.7,973.4 2528.5,968.6 2547.2,963.6 2565.9,955.5 2584.6,965.1 2603.4,974.0 2622.1,968.0 2640.8,959.7 2659.5,953.7 2678.3,953.7 2697.0,953.7 2715.7,959.1 2734.4,962.1 2753.2,964.6 2771.9,975.3 2790.6,977.8 2809.3,972.3 2828.1,964.4 2846.8,956.2 2865.5,963.5 2884.2,958.4 2903.0,961.4 2921.7,969.4 2940.4,962.7 2959.1,960.9 2977.9,956.9 2996.6,965.7 3015.3,966.3 3034.0,971.6 3052.8,977.4 3071.5,967.2 3090.2,965.1 3108.9,972.1 3127.7,979.8 3146.4,973.9 3165.1,973.0 3183.8,976.0 3202.6,989.7 3221.3,997.3 3240.0,993.5" fill="none" stroke="#808080" stroke-opacity="0.3" stroke-width="4.17" stroke-linejoin="round" stroke-linecap="square"/>
<polyline points="450.0,905.7 468.7,905.7 487.4,909.5 506.2,914.5 524.9,920.4 543.6,932.9 562.3,939.4 581.1,940.8 599.8,949.6 618.5,942.9 637.2,944.6 656.0,942.3 674.7,943.2 693.4,940.8 712.1,941.7 730.9,946.1 749.6,940.0 768.3,943.8 787.0,947.3 805.8,946.9 824.5,949.1 843.2,950.1 861.9,953.1 880.7,965.1 899.4,965.1 918.1,965.6 936.8,963.6 955.6,957.6 974.3,960.6 993.0,948.6 1011.7,948.0 1030.5,962.1 1049.2,965.1 1067.9,963.6 1086.6,962.7 1105.4,953.1 1124.1,949.5 1142.8,950.1 1161.5,951.6 1180.3,959.1 1199.0,948.6 1217.7,948.6 1236.4,955.2 1255.2,954.6 1273.9,954.6 1292.6,957.6 1311.3,947.1 1330.1,941.1 1348.8,936.6 1367.5,932.1 1386.2,921.7 1405.0,912.7 1423.7,912.7 1442.4,906.7 1461.1,914.2 1479.9,915.7 1498.6,917.2 1517.3,922.1 1536.0,919.9 1554.8,922.6 1573.5,926.8 1592.2,920.8 1610.9,920.8 1629.7,931.5 1648.4,926.2 1667.1,921.7 1685.8,921.7 1704.6,922.6 1723.3,926.8 1742.0,930.6 1760.7,924.7 1779.5,923.8 1798.2,919.6 1816.9,924.7 1835.6,926.8 1854.4,927.6 1873.1,932.7 1891.8,927.6 1910.5,923.2 1929.3,918.7 1948.0,918.7 1966.7,923.8 1985.4,917.2 2004.2,910.6 2022.9,912.7 2041.6,912.7 2060.3,911.8 2079.1,902.2 2097.8,907.6 2116.5,912.7 2135.2,917.2 2154.0,919.6 2172.7,920.8 2191.4,922.6 2210.1,924.7 2228.9,926.8 2247.6,941.9 2266.3,946.5 2285.0,945.6 2303.8,943.5 2322.5,941.7 2341.2,937.5 2359.9,935.1 2378.7,931.5 2397.4,931.5 2416.1,937.5 2434.8,929.1 2453.6,930.6 2472.3,933.6 2491.0,932.1 2509.7,940.5 2528.5,931.5 2547.2,922.6 2565.9,924.7 2584.6,924.7 2603.4,920.2 2622.1,927.6 2640.8,930.6 2659.5,928.5 2678.3,919.6 2697.0,913.6 2715.7,920.8 2734.4,909.7 2753.2,901.5 2771.9,896.9 2790.6,900.7 2809.3,886.7 2828.1,877.1 2846.8,870.7 2865.5,880.5 2884.2,885.5 2903.0,885.5 2921.7,888.0 2940.4,878.7 2959.1,880.0 2977.9,875.6 2996.6,886.1 3015.3,882.3 3034.0,880.9 3052.8,883.2 3071.5,869.2 3090.2,864.8 3108.9,866.2 3127.7,854.5 3146.4,842.2 3165.1,847.2 3183.8,840.5 3202.6,851.0 3221.3,844.3 3240.0,851.0" fill="none" stroke="#808080" stroke-opacity="0.3" stroke-width="4.17" stroke-linejoin="round" stroke-linecap="square"/>
<polyline points="1386.2,591.3 1405.0,591.3 1423.7,587.3 1442.4,592.8 1461.1,590.5 1479.9,595.2 1498.6,596.0 1517.3,596.5 1536.0,594.2 1554.8,591.6 1573.5,593.2 1592.2,588.5 1610.9,594.0" fill="none" stroke="#808080" stroke-opacity="0.3" stroke-width="4.17" stroke-linejoin="round" stroke-linecap="square"/>
<polyline points="1405.0,713.7 1423.7,718.2 1442.4,719.7 1461.1,719.7 1479.9,730.2 1498.6,736.1 1517.3,742.1 1536.0,749.6" fill="none" stroke="#808080" stroke-opacity="0.3" stroke-width="4.17" stroke-linejoin="round" stroke-linecap="square"/>
<polyline points="1629.7,509.3 1648.4,514.0 1667.1,518.0 1685.8,518.4 1704.6,521.1 1723.3,518.0 1742.0,525.0 1760.7,528.2 1779.5,527.4 1798.2,527.4 1816.9,524.2 1835.6,528.2 1854.4,532.9 1873.1,543.1 1891.8,543.1 1910.5,540.1 1929.3,537.0 1948.0,541.7 1966.7,538.5 1985.4,526.3 2004.2,522.1 2022.9,519.7 2041.6,520.5 2060.3,520.5 2079.1,519.7 2097.8,518.2 2116.5,520.5 2135.2,530.7 2154.0,526.8 2172.7,517.4 2191.4,517.4 2210.1,521.3 2228.9,519.3 2247.6,517.8 2266.3,516.6 2285.0,515.8 2303.8,508.0 2322.5,503.3 2341.2,490.7 2359.9,487.6 2378.7,485.2 2397.4,498.6 2416.1,493.1 2434.8,494.6 2453.6,491.5 2472.3,494.6 2491.0,494.6 2509.7,500.1 2528.5,494.6 2547.2,488.4 2565.9,489.2 2584.6,488.1 2603.4,486.5 2622.1,489.3 2640.8,494.0 2659.5,498.4 2678.3,490.9 2697.0,489.0 2715.7,490.9 2734.4,487.0 2753.2,484.6 2771.9,483.1 2790.6,483.9 2809.3,485.4 2828.1,487.8 2846.8,486.2 2865.5,486.2 2884.2,490.9 2903.0,498.7 2921.7,498.0 2940.4,497.2 2959.1,493.0 2977.9,487.5 2996.6,486.1 3015.3,488.3 3034.0,487.5 3052.8,489.8 3071.5,492.8 3090.2,489.8 3108.9,481.6 3127.7,485.3 3146.4,489.0 3165.1,494.3 3183.8,496.5 3202.6,501.0 3221.3,504.8 3240.0,507.8" fill="none" stroke="#808080" stroke-opacity="0.3" stroke-width="4.17" stroke-linejoin="round" stroke-linecap="square"/>
<polyline points="1948.0,578.5 1966.7,580.8 1985.4,584.8 2004.2,580.8 2022.9,577.7 2041.6,576.1 2060.3,575.4 2079.1,584.0 2097.8,588.7" fill="none" stroke="#808080" stroke-opacity="0.3" stroke-width="4.17" stroke-linejoin="round" stroke-linecap="square"/>
<polyline points="1985.4,599.7 2004.2,602.0 2022.9,604.4 2041.6,601.2 2060.3,602.8 2079.1,600.4 2097.8,603.6 2116.5,606.7 2135.2,608.3 2154.0,606.7 2172.7,604.4 2191.4,604.4 2210.1,605.1 2228.9,607.9 2247.6,613.4 2266.3,616.1 2285.0,613.8 2303.8,609.8 2322.5,607.5 2341.2,609.8 2359.9,620.0 2378.7,610.6 2397.4,608.3 2416.1,609.1 2434.8,609.8 2453.6,609.8 2472.3,609.8 2491.0,609.1 2509.7,612.2 2528.5,610.6 2547.2,613.8 2565.9,611.4 2584.6,607.6 2603.4,608.8 2622.1,610.0 2640.8,603.8 2659.5,599.1 2678.3,598.3 2697.0,599.1 2715.7,602.2 2734.4,600.6 2753.2,595.9 2771.9,596.7 2790.6,598.3 2809.3,591.2 2828.1,589.7 2846.8,586.5 2865.5,591.2 2884.2,588.9 2903.0,587.3 2921.7,590.6 2940.4,584.9 2959.1,581.1 2977.9,583.3 2996.6,587.8 3015.3,587.8 3034.0,594.6 3052.8,592.3 3071.5,586.3 3090.2,583.3 3108.9,591.6 3127.7,598.3 3146.4,589.3 3165.1,589.3 3183.8,591.6 3202.6,599.0 3221.3,605.0 3240.0,601.3" fill="none" stroke="#808080" stroke-opacity="0.3" stroke-width="4.17" stroke-linejoin="round" stroke-linecap="square"/>
<polyline points="2303.8,598.9 2322.5,595.7 2341.2,597.3 2359.9,602.0" fill="none" stroke="#808080" stroke-opacity="0.3" stroke-width="4.17" stroke-linejoin="round" stroke-linecap="square"/>
<polyline points="2453.6,598.1 2472.3,595.7 2491.0,592.6 2509.7,593.4 2528.5,602.8 2547.2,614.7 2565.9,611.1 2584.6,606.4" fill="none" stroke="#808080" stroke-opacity="0.3" stroke-width="4.17" stroke-linejoin="round" stroke-linecap="square"/>
<polyline points="2715.7,581.8 2734.4,580.3 2753.2,576.3 2771.9,577.9 2790.6,578.7 2809.3,574.0 2828.1,569.3 2846.8,563.8 2865.5,570.1 2884.2,570.8 2903.0,571.6 2921.7,568.4 2940.4,572.6 2959.1,570.7 2977.9,570.6 2996.6,569.1 3015.3,567.9 3034.0,570.6 3052.8,574.3 3071.5,569.9 3090.2,560.9 3108.9,549.7 3127.7,555.6 3146.4,556.4 3165.1,550.4 3183.8,560.1 3202.6,568.4 3221.3,566.1 3240.0,573.6" fill="none" stroke="#808080" stroke-opacity="0.3" stroke-width="4.17" stroke-linejoin="round" stroke-linecap="square"/>
<polyline points="2715.7,590.4 2734.4,598.3 2753.2,590.4 2771.9,588.9 2790.6,582.6 2809.3,577.1 2828.1,579.5 2846.8,583.4 2865.5,589.7 2884.2,586.5 2903.0,585.0 2921.7,580.2 2940.4,581.8 2959.1,579.5 2977.9,582.6 2996.6,585.6 3015.3,585.6 3034.0,587.8 3052.8,585.6 3071.5,583.3 3090.2,582.6 3108.9,586.3 3127.7,588.6 3146.4,583.3 3165.1,585.6 3183.8,588.6" fill="none" stroke="#808080" stroke-opacity="0.3" stroke-width="4.17" stroke-linejoin="round" stroke-linecap="square"/>
<polyline points="1816.9,604.5 1835.6,603.0 1854.4,603.0 1873.1,609.0 1891.8,607.5 1910.5,609.0 1929.3,616.5 1948.0,620.3 1966.7,606.0" fill="none" stroke="#808080" stroke-opacity="0.3" stroke-width="4.17" stroke-linejoin="round" stroke-linecap="square"/>
<polyline points="2491.0,695.2 2509.7,704.1 2528.5,701.1 2547.2,697.2 2565.9,690.4 2584.6,703.2 2603.4,706.2 2622.1,713.1 2640.8,704.1 2659.5,712.2 2678.3,709.2 2697.0,706.2 2715.7,710.7 2734.4,700.2 2753.2,697.6 2771.9,698.7 2790.6,701.8 2809.3,694.4 2828.1,695.7 2846.8,694.7 2865.5,705.0 2884.2,693.9 2903.0,693.9 2921.7,698.8 2940.4,693.5 2959.1,693.2 2977.9,695.1 2996.6,699.5 3015.3,698.0 3034.0,703.9 3052.8,700.9 3071.5,696.5 3090.2,693.6 3108.9,694.2 3127.7,696.0 3146.4,681.3 3165.1,681.9 3183.8,682.5 3202.6,689.2 3221.3,674.6 3240.0,672.6" fill="none" stroke="#808080" stroke-opacity="0.3" stroke-width="4.17" stroke-linejoin="round" stroke-linecap="square"/>
<polyline points="1723.3,603.5 1742.0,606.7 1760.7,605.7 1779.5,608.1 1798.2,608.9 1816.9,605.7 1835.6,602.6 1854.4,601.8 1873.1,608.2 1891.8,606.2 1910.5,608.3 1929.3,615.3 1948.0,618.5 1966.7,604.4 1985.4,598.1 2004.2,595.0 2022.9,591.8 2041.6,586.3 2060.3,584.8 2079.1,590.3 2097.8,595.0 2116.5,604.4 2135.2,606.7 2154.0,605.1 2172.7,609.1 2191.4,598.1 2210.1,598.9 2228.9,601.2 2247.6,607.5" fill="none" stroke="#808080" stroke-opacity="0.3" stroke-width="4.17" stroke-linejoin="round" stroke-linecap="square"/>
<polyline points="1367.5,595.0 1386.2,603.0 1405.0,606.1 1423.7,609.3 1442.4,606.1 1461.1,609.3 1479.9,614.8 1498.6,618.7 1517.3,617.1 1536.0,617.1 1554.8,613.3 1573.5,616.2 1592.2,611.4 1610.9,605.7 1629.7,604.8" fill="none" stroke="#808080" stroke-opacity="0.3" stroke-width="4.17" stroke-linejoin="round" stroke-linecap="square"/>
<polyline points="450.0,848.8 468.7,842.8 487.4,844.1 506.2,846.7 524.9,857.8 543.6,857.8 562.3,857.8 581.1,855.5 599.8,861.3 618.5,856.6 637.2,858.2 656.0,857.3 674.7,858.5 693.4,858.2 712.1,863.1 730.9,866.8 749.6,870.1 768.3,874.0 787.0,875.7 805.8,879.5 824.5,869.4 843.2,871.1 861.9,870.2 880.7,866.4 899.4,865.3 918.1,870.6 936.8,872.8 955.6,868.8 974.3,869.8 993.0,869.8 1011.7,866.6 1030.5,876.1 1049.2,879.5 1067.9,879.5 1086.6,879.2 1105.4,889.3 1124.1,888.4 1142.8,892.9 1161.5,889.3 1180.3,895.2 1199.0,895.2 1217.7,897.3 1236.4,899.5 1255.2,901.0 1273.9,894.3 1292.6,888.0 1311.3,887.3 1330.1,884.7 1348.8,886.7 1367.5,885.8 1386.2,888.4 1405.0,888.6 1423.7,891.9 1442.4,899.3 1461.1,904.5 1479.9,906.1 1498.6,905.2 1517.3,905.2 1536.0,901.9 1554.8,896.6 1573.5,884.9 1592.2,873.8 1610.9,873.8 1629.7,876.8 1648.4,869.3 1667.1,856.7 1685.8,843.0 1704.6,847.7 1723.3,852.8 1742.0,852.8 1760.7,860.9 1779.5,860.9 1798.2,860.3 1816.9,864.8 1835.6,861.8 1854.4,853.7 1873.1,857.3 1891.8,857.3 1910.5,858.8 1929.3,863.3 1948.0,872.3 1966.7,890.2 1985.4,894.7 2004.2,903.7 2022.9,905.2 2041.6,904.6 2060.3,901.6 2079.1,897.7 2097.8,900.7 2116.5,910.6 2135.2,912.7 2154.0,908.2 2172.7,902.2 2191.4,887.2 2210.1,894.1 2228.9,886.6 2247.6,896.8 2266.3,886.6 2285.0,880.7 2303.8,877.7 2322.5,876.8 2341.2,875.9 2359.9,874.7 2378.7,869.9 2397.4,867.8 2416.1,857.3 2434.8,846.0 2453.6,848.9 2472.3,851.3 2491.0,852.8 2509.7,855.8 2528.5,853.7 2547.2,860.9 2565.9,854.9 2584.6,848.3 2603.4,848.3 2622.1,844.8 2640.8,842.4 2659.5,838.8 2678.3,831.9 2697.0,824.4 2715.7,826.8 2734.4,825.0 2753.2,824.8 2771.9,815.2 2790.6,818.2 2809.3,807.5 2828.1,814.5 2846.8,814.5 2865.5,813.4 2884.2,811.9 2903.0,814.4 2921.7,815.3 2940.4,807.1 2959.1,807.1 2977.9,816.4 2996.6,819.9 3015.3,821.7 3034.0,816.4 3052.8,816.4 3071.5,813.5 3090.2,807.1 3108.9,798.3 3127.7,810.6 3146.4,807.1 3165.1,803.3 3183.8,804.1 3202.6,803.3 3221.3,808.2 3240.0,798.9" fill="none" stroke="#808080" stroke-opacity="0.3" stroke-width="4.17" stroke-linejoin="round" stroke-linecap="square"/>
</g>
<g clip-path="url(#ax)">
<polyline points="450.0,851.8 468.7,845.8 487.4,847.1 506.2,849.7 524.9,860.8 543.6,860.8 562.3,860.8 581.1,858.5 599.8,864.3 618.5,859.6 637.2,861.2 656.0,860.3 674.7,861.5 693.4,861.2 712.1,866.1 730.9,869.8 749.6,873.1 768.3,877.0 787.0,878.7 805.8,882.5 824.5,872.4 843.2,874.1 861.9,873.2 880.7,869.4 899.4,868.3 918.1,873.6 936.8,875.8 955.6,871.8 974.3,872.8 993.0,872.8 1011.7,869.6 1030.5,879.1 1049.2,882.5 1067.9,882.5 1086.6,882.2 1105.4,892.3 1124.1,891.4 1142.8,895.9 1161.5,892.3 1180.3,898.2 1199.0,898.2 1217.7,900.3 1236.4,902.5 1255.2,904.0 1273.9,897.3 1292.6,891.0 1311.3,890.3 1330.1,887.7 1348.8,889.7 1367.5,888.8 1386.2,891.4 1405.0,891.6 1423.7,894.9 1442.4,902.3 1461.1,907.5 1479.9,909.1 1498.6,908.2 1517.3,908.2 1536.0,904.9 1554.8,899.6 1573.5,887.9 1592.2,876.8 1610.9,876.8 1629.7,879.8 1648.4,872.3 1667.1,859.7 1685.8,846.0 1704.6,850.7 1723.3,855.8 1742.0,855.8 1760.7,863.9 1779.5,863.9 1798.2,863.3 1816.9,867.8 1835.6,864.8 1854.4,856.7 1873.1,860.3 1891.8,860.3 1910.5,861.8 1929.3,866.3 1948.0,875.3 1966.7,893.2 1985.4,897.7 2004.2,906.7 2022.9,908.2 2041.6,907.6 2060.3,904.6 2079.1,900.7 2097.8,903.7 2116.5,913.6 2135.2,915.7 2154.0,911.2 2172.7,905.2 2191.4,890.2 2210.1,897.1 2228.9,889.6 2247.6,899.8 2266.3,889.6 2285.0,883.7 2303.8,880.7 2322.5,879.8 2341.2,878.9 2359.9,877.7 2378.7,872.9 2397.4,870.8 2416.1,860.3 2434.8,849.0 2453.6,851.9 2472.3,854.3 2491.0,855.8 2509.7,858.8 2528.5,856.7 2547.2,863.9 2565.9,857.9 2584.6,851.3 2603.4,851.3 2622.1,847.8 2640.8,845.4 2659.5,841.8 2678.3,834.9 2697.0,827.4 2715.7,829.8 2734.4,828.0 2753.2,827.8 2771.9,818.2 2790.6,821.2 2809.3,810.5 2828.1,817.5 2846.8,817.5 2865.5,816.4 2884.2,814.9 2903.0,817.4 2921.7,818.3 2940.4,810.1 2959.1,810.1 2977.9,819.4 2996.6,822.9 3015.3,824.7 3034.0,819.4 3052.8,819.4 3071.5,816.5 3090.2,810.1 3108.9,801.3 3127.7,813.6 3146.4,810.1 3165.1,806.3 3183.8,807.1 3202.6,806.3 3221.3,811.2 3240.0,801.9" fill="none" stroke="#808080" stroke-width="4.17" stroke-linejoin="round" stroke-linecap="square"/>
<polyline points="450.0,478.1 468.7,478.1 487.4,484.7 506.2,488.9 524.9,484.4 543.6,490.5 562.3,487.0 581.1,483.6 599.8,485.5 618.5,485.5 637.2,490.2 656.0,495.6 674.7,499.6 693.4,496.1 712.1,499.9 730.9,495.6 749.6,501.6 768.3,501.9 787.0,506.3 805.8,503.0 824.5,502.3 843.2,502.4 861.9,498.0 880.7,500.8 899.4,500.8 918.1,500.3 936.8,499.2 955.6,504.6 974.3,504.6 993.0,500.8 1011.7,501.9 1030.5,504.6 1049.2,500.8 1067.9,510.5 1086.6,512.1 1105.4,511.3 1124.1,510.5 1142.8,509.0 1161.5,505.5 1180.3,507.6 1199.0,504.3 1217.7,509.0 1236.4,511.3 1255.2,512.4 1273.9,511.3 1292.6,509.0 1311.3,503.9 1330.1,508.2 1348.8,503.5 1367.5,501.4 1386.2,497.7 1405.0,504.3 1423.7,504.3 1442.4,503.0 1461.1,505.8 1479.9,507.7 1498.6,504.3 1517.3,505.5 1536.0,506.8 1554.8,506.2 1573.5,505.9 1592.2,506.2 1610.9,507.5 1629.7,505.4 1648.4,504.6 1667.1,507.8 1685.8,499.9 1704.6,497.6 1723.3,498.1 1742.0,497.6 1760.7,495.7 1779.5,492.9 1798.2,488.2 1816.9,483.5 1835.6,482.7 1854.4,483.9 1873.1,479.7 1891.8,483.2 1910.5,490.7 1929.3,494.6 1948.0,486.0 1966.7,492.8 1985.4,494.6 2004.2,492.8 2022.9,490.3 2041.6,489.9 2060.3,489.6 2079.1,489.2 2097.8,493.1 2116.5,493.9 2135.2,479.7 2154.0,478.2 2172.7,487.6 2191.4,486.0 2210.1,484.9 2228.9,483.3 2247.6,480.9 2266.3,481.3 2285.0,473.9 2303.8,473.9 2322.5,472.7 2341.2,474.3 2359.9,478.2 2378.7,478.7 2397.4,482.1 2416.1,488.4 2434.8,483.7 2453.6,481.8 2472.3,481.8 2491.0,482.4 2509.7,478.7 2528.5,484.9 2547.2,485.5 2565.9,483.4 2584.6,481.4 2603.4,473.2 2622.1,471.3 2640.8,480.7 2659.5,489.0 2678.3,486.5 2697.0,485.9 2715.7,487.5 2734.4,483.1 2753.2,480.7 2771.9,476.0 2790.6,480.7 2809.3,481.8 2828.1,482.8 2846.8,483.9 2865.5,484.6 2884.2,480.7 2903.0,473.7 2921.7,472.5 2940.4,473.9 2959.1,474.5 2977.9,477.8 2996.6,472.1 3015.3,475.6 3034.0,471.1 3052.8,469.6 3071.5,469.6 3090.2,467.3 3108.9,475.6 3127.7,484.1 3146.4,481.6 3165.1,476.3 3183.8,472.1 3202.6,473.0 3221.3,464.1 3240.0,471.8" fill="none" stroke="#808080" stroke-width="4.17" stroke-linejoin="round" stroke-linecap="square"/>
<polyline points="450.0,539.1 468.7,536.4 487.4,534.5 506.2,534.5 524.9,543.4 543.6,543.8 562.3,541.1 581.1,539.8 599.8,549.7 618.5,542.7 637.2,542.2 656.0,541.9 674.7,541.6 693.4,540.3 712.1,540.8 730.9,547.7 749.6,547.7 768.3,545.3 787.0,543.4 805.8,541.1 824.5,540.5 843.2,541.1 861.9,548.2 880.7,551.6 899.4,557.9 918.1,556.0 936.8,554.1 955.6,552.1 974.3,555.2 993.0,556.0 1011.7,556.8 1030.5,563.0 1049.2,561.0 1067.9,563.8 1086.6,561.9 1105.4,568.2 1124.1,571.7 1142.8,574.8 1161.5,565.4 1180.3,573.2 1199.0,575.6 1217.7,579.5 1236.4,578.7 1255.2,583.4 1273.9,588.1 1292.6,588.1 1311.3,588.6 1330.1,597.5 1348.8,595.2 1367.5,589.7 1386.2,595.2 1405.0,599.6 1423.7,594.4 1442.4,599.9 1461.1,594.4 1479.9,599.9 1498.6,605.4 1517.3,601.8 1536.0,602.6 1554.8,602.6 1573.5,602.1 1592.2,599.5 1610.9,597.9 1629.7,603.1 1648.4,596.3 1667.1,596.3 1685.8,594.0 1704.6,595.2 1723.3,603.7 1742.0,599.5 1760.7,601.5 1779.5,601.8 1798.2,598.7 1816.9,592.1 1835.6,593.2 1854.4,593.2 1873.1,589.0 1891.8,587.4 1910.5,578.5 1929.3,582.4 1948.0,580.8 1966.7,586.3 1985.4,591.8 2004.2,589.5 2022.9,587.9 2041.6,583.2 2060.3,582.4 2079.1,591.8 2097.8,594.2 2116.5,602.0 2135.2,601.5 2154.0,600.9 2172.7,600.4 2191.4,600.0 2210.1,600.0 2228.9,600.8 2247.6,609.8 2266.3,609.1 2285.0,608.3 2303.8,604.4 2322.5,601.2 2341.2,602.5 2359.9,603.6 2378.7,608.3 2397.4,609.1 2416.1,606.7 2434.8,605.6 2453.6,605.1 2472.3,604.4 2491.0,600.4 2509.7,602.8 2528.5,609.1 2547.2,605.1 2565.9,596.5 2584.6,602.9 2603.4,602.2 2622.1,595.1 2640.8,592.0 2659.5,589.7 2678.3,585.7 2697.0,585.7 2715.7,585.7 2734.4,590.4 2753.2,581.8 2771.9,584.2 2790.6,581.8 2809.3,575.5 2828.1,576.8 2846.8,573.2 2865.5,581.0 2884.2,579.9 2903.0,578.7 2921.7,574.6 2940.4,578.8 2959.1,575.7 2977.9,576.6 2996.6,577.3 3015.3,576.6 3034.0,579.6 3052.8,581.4 3071.5,576.6 3090.2,571.8 3108.9,575.1 3127.7,578.4 3146.4,575.1 3165.1,582.9 3183.8,582.6 3202.6,589.3 3221.3,585.6 3240.0,581.1" fill="none" stroke="#000" stroke-width="8.33" stroke-linejoin="round" stroke-linecap="square"/>
</g>
<polyline points="730.9,527.3 749.6,534.2 768.3,539.3 787.0,550.8 805.8,560.7 824.5,558.4 843.2,569.8 861.9,568.5 880.7,570.9 899.4,570.9 918.1,581.7 936.8,572.6 955.6,575.1 974.3,575.9 993.0,581.7 1011.7,589.2 1030.5,599.4 1049.2,609.1 1067.9,616.8 1086.6,628.2 1105.4,637.9 1124.1,642.3 1142.8,643.1 1161.5,646.7 1180.3,653.3 1199.0,654.6 1217.7,659.0 1236.4,664.3 1255.2,677.5 1273.9,684.1 1292.6,684.1 1311.3,684.1 1330.1,687.2 1348.8,684.1 1367.5,683.2 1386.2,691.6 1405.0,692.9 1423.7,694.2 1442.4,695.1 1461.1,696.0 1479.9,696.4 1498.6,721.5 1517.3,726.8 1536.0,740.0" fill="none" stroke="#008000" stroke-width="12.5" stroke-linejoin="round" stroke-linecap="square"/>
<path d="M618.52,1837.5V210.0 M993.02,1837.5V210.0 M1367.52,1837.5V210.0 M1742.01,1837.5V210.0 M2116.51,1837.5V210.0 M2491.01,1837.5V210.0 M2865.50,1837.5V210.0 M450.0,1566.25H3240.0 M450.0,1295.00H3240.0 M450.0,1023.75H3240.0 M450.0,752.50H3240.0 M450.0,481.25H3240.0" stroke="#000" stroke-width="2.08" stroke-dasharray="4.167 12.5" fill="none"/>
<path d="M618.52,1837.5v-16.67 M618.52,210.0v16.67 M993.02,1837.5v-16.67 M993.02,210.0v16.67 M1367.52,1837.5v-16.67 M1367.52,210.0v16.67 M1742.01,1837.5v-16.67 M1742.01,210.0v16.67 M2116.51,1837.5v-16.67 M2116.51,210.0v16.67 M2491.01,1837.5v-16.67 M2491.01,210.0v16.67 M2865.50,1837.5v-16.67 M2865.50,210.0v16.67 M3240.00,1837.5v-16.67 M3240.00,210.0v16.67 M450.0,1837.50h16.67 M3240.0,1837.50h-16.67 M450.0,1566.25h16.67 M3240.0,1566.25h-16.67 M450.0,1295.00h16.67 M3240.0,1295.00h-16.67 M450.0,1023.75h16.67 M3240.0,1023.75h-16.67 M450.0,752.50h16.67 M3240.0,752.50h-16.67 M450.0,481.25h16.67 M3240.0,481.25h-16.67 M450.0,210.00h16.67 M3240.0,210.00h-16.67" stroke="#000" stroke-width="2.08" fill="none"/>
<rect x="450.0" y="210.0" width="2790.0" height="1627.5" fill="none" stroke="#000" stroke-width="4.17"/>
<rect x="485" y="1386" width="590" height="416.5" fill="#fff" stroke="#000" stroke-width="4.17"/>
<line x1="533.9" y1="1438" x2="632.1" y2="1438" stroke="#808080" stroke-width="4.17" stroke-linecap="square"/>
<text x="708.4" y="1461.9" font-size="70" class="t">13%</text>
<line x1="533.9" y1="1537" x2="632.1" y2="1537" stroke="#808080" stroke-width="4.17" stroke-linecap="square"/>
<text x="708.4" y="1562.3" font-size="70" class="t">87%</text>
<line x1="533.9" y1="1636" x2="632.1" y2="1636" stroke="#000" stroke-width="8.33" stroke-linecap="square"/>
<text x="708.4" y="1660.9" font-size="70" class="t">Mediāna</text>
<line x1="533.9" y1="1735" x2="632.1" y2="1735" stroke="#008000" stroke-width="12.5" stroke-linecap="square"/>
<text x="708.4" y="1760.4" font-size="70" class="t">Novērojumi</text>
<text x="618.52" y="1894.5" font-size="58.33" text-anchor="middle" class="t">1960</text>
<text x="993.02" y="1894.5" font-size="58.33" text-anchor="middle" class="t">1980</text>
<text x="1367.52" y="1894.5" font-size="58.33" text-anchor="middle" class="t">2000</text>
<text x="1742.01" y="1894.5" font-size="58.33" text-anchor="middle" class="t">2020</text>
<text x="2116.51" y="1894.5" font-size="58.33" text-anchor="middle" class="t">2040</text>
<text x="2491.01" y="1894.5" font-size="58.33" text-anchor="middle" class="t">2060</text>
<text x="2865.50" y="1894.5" font-size="58.33" text-anchor="middle" class="t">2080</text>
<text x="3240.00" y="1894.5" font-size="58.33" text-anchor="middle" class="t">2100</text>
<text x="433.2" y="1852.40" font-size="58.33" text-anchor="end" class="t">0</text>
<text x="433.2" y="1581.15" font-size="58.33" text-anchor="end" class="t">50</text>
<text x="433.2" y="1309.90" font-size="58.33" text-anchor="end" class="t">100</text>
<text x="433.2" y="1038.65" font-size="58.33" text-anchor="end" class="t">150</text>
<text x="433.2" y="767.40" font-size="58.33" text-anchor="end" class="t">200</text>
<text x="433.2" y="496.15" font-size="58.33" text-anchor="end" class="t">250</text>
<text x="433.2" y="224.90" font-size="58.33" text-anchor="end" class="t">300</text>
<text x="1844.5" y="189.4" font-size="70.2" text-anchor="middle" class="t">Mērsrags.Jūn</text>
<text x="1845" y="1967.9" font-size="58.33" text-anchor="middle" class="t">Gads</text>
<g transform="translate(306.5,1581) rotate(-90)" class="t"><text x="-3.9" y="0" font-size="58.33">Saules radiācija uz horizontālas virsmas,</text><text transform="translate(956.21,-0.31) scale(1.1941,1.0262)" font-size="58.33" font-style="italic">W</text><text transform="translate(1019.43,13.24) scale(0.9088,1.5044)" font-size="58.33" font-style="italic">/</text><text transform="translate(1041.52,0.50) scale(1.2697,0.9605)" font-size="58.33" font-style="italic">m</text><text transform="translate(1097.64,-21.60) scale(0.7270,0.7276)" font-size="58.33">2</text></g>
</svg>
</body></html>
